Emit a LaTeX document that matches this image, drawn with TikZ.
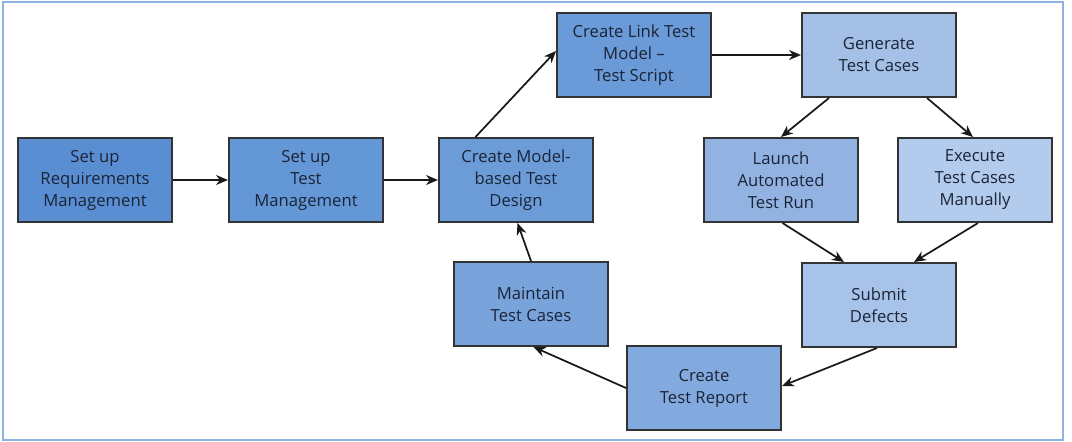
\documentclass[tikz,border=0pt]{standalone}
\usepackage{fontspec}
\setmainfont{Open Sans}
\usetikzlibrary{arrows.meta,calc}
\definecolor{frame}{HTML}{8DB3E2}
\definecolor{txt}{HTML}{1B2436}
\definecolor{cA}{HTML}{5A8ED2}
\definecolor{cB}{HTML}{6497D6}
\definecolor{cC}{HTML}{6C9CD8}
\definecolor{cD}{HTML}{6A9AD7}
\definecolor{cE}{HTML}{A4C0E7}
\definecolor{cF}{HTML}{92B3E2}
\definecolor{cG}{HTML}{B3CBEC}
\definecolor{cH}{HTML}{A8C3E9}
\definecolor{cI}{HTML}{78A3DB}
\definecolor{cJ}{HTML}{82AADE}
\tikzset{
  stepbox/.style={draw=black!80, line width=1.5pt, anchor=north west,
    minimum width=115.5pt, minimum height=63pt, inner sep=2pt,
    align=center, text=txt, font=\fontsize{12.5}{16.5}\selectfont},
  conn/.style={draw=black!90, line width=1.3pt, -{Stealth[length=9pt,width=7.5pt]}}
}
\begin{document}
\begin{tikzpicture}[x=0.75pt,y=-0.75pt]
\useasboundingbox (0,0) rectangle (1072,442);
\draw[frame, line width=1.6pt] (3,2) rectangle (1063,440);
\node[stepbox, fill=cA] (req) at (17,137) {Set up\\Requirements\\Management};
\node[stepbox, fill=cB] (tm) at (228,137) {Set up\\Test\\Management};
\node[stepbox, fill=cC] (mbd) at (438,137) {Create Model-\\based Test\\Design};
\node[stepbox, fill=cD] (link) at (556,12) {Create Link Test\\Model --\\Test Script};
\node[stepbox, fill=cE] (gen) at (801,12) {Generate\\Test Cases};
\node[stepbox, fill=cF] (auto) at (703,137) {Launch\\Automated\\Test Run};
\node[stepbox, fill=cG] (man) at (897,137) {Execute\\Test Cases\\Manually};
\node[stepbox, fill=cH] (sub) at (801,262) {Submit\\Defects};
\node[stepbox, fill=cI] (maint) at (453,261) {Maintain\\Test Cases};
\node[stepbox, fill=cJ] (rep) at (626,345) {Create\\Test Report};

\draw[conn] (req.east) -- (tm.west);
\draw[conn] (tm.east) -- (mbd.west);
\draw[conn] ($(mbd.north)+(-40.5,0)$) -- ($(link.west)+(0,-4)$);
\draw[conn] (link.east) -- (gen.west);
\draw[conn] ($(gen.south)+(-50,0)$) -- (auto.north);
\draw[conn] ($(gen.south)+(48,0)$) -- ($(man.north)+(-2,0)$);
\draw[conn] ($(auto.south)+(1.5,0)$) -- ($(sub.north)+(-35,0)$);
\draw[conn] ($(man.south)+(3,0)$) -- ($(sub.north)+(35,0)$);
\draw[conn] ($(sub.south)+(-2,0)$) -- ($(rep.east)+(0,-2)$);
\draw[conn] (rep.west) -- ($(maint.south)+(2.5,0)$);
\draw[conn] (maint.north) -- ($(mbd.south)+(1.5,0)$);
\end{tikzpicture}
\end{document}
